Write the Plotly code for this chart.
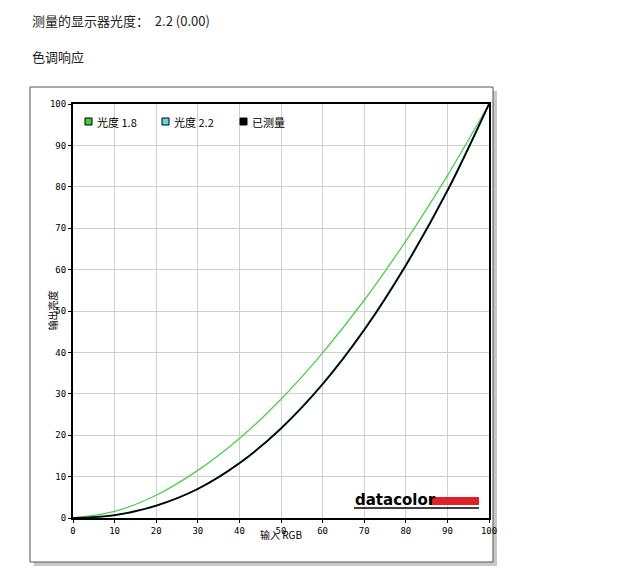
import plotly.graph_objects as go

# input RGB levels
x_levels = [0, 10, 20, 30, 40, 50, 60, 70, 80, 90, 100]
gamma_18 = [0, 1.6, 5.5, 11.5, 19.2, 28.7, 39.9, 52.6, 66.9, 82.7, 100]
gamma_22 = [0, 0.6, 2.9, 7.1, 13.3, 21.8, 32.5, 45.6, 61.2, 79.3, 100]
measured = [0, 0.7, 3.0, 7.0, 13.2, 21.6, 32.3, 45.4, 61.0, 79.0, 100]
ticks = [0, 10, 20, 30, 40, 50, 60, 70, 80, 90, 100]

W, H = 640, 584
L, R, T, B = 73, 489, 104, 518
SHIFT = 8  # page body margin


def px(x):
    return (x - L) / (R - L)


def py(y):
    return (B - y) / (B - T)


font = "Noto Sans CJK SC"
fig = go.Figure()
fig.add_trace(go.Scatter(x=x_levels, y=gamma_18, mode="lines", line=dict(color="#4ccf4c", width=1.3, shape="spline")))
fig.add_trace(go.Scatter(x=x_levels, y=gamma_22, mode="lines", line=dict(color="#40b8c8", width=1.5, shape="spline")))
fig.add_trace(go.Scatter(x=x_levels, y=measured, mode="lines", line=dict(color="black", width=1.8, shape="spline")))

shapes = [
    # shadowed outer box
    dict(type="rect", xref="paper", yref="paper", x0=px(34), x1=px(497), y0=py(566), y1=py(91),
         fillcolor="#c8c8c8", line=dict(width=0), layer="below"),
    dict(type="rect", xref="paper", yref="paper", x0=px(30), x1=px(493), y0=py(562), y1=py(87),
         fillcolor="white", line=dict(color="#555", width=1), layer="below"),
    # datacolor red bar
    dict(type="rect", xref="paper", yref="paper", x0=px(430), x1=px(479), y0=py(505), y1=py(497),
         fillcolor="#e0202a", line=dict(width=0)),
    dict(type="line", xref="paper", yref="paper", x0=px(354), x1=px(479), y0=py(508), y1=py(508),
         line=dict(color="black", width=1.5)),
]
annotations = [
    dict(text="测量的显示器光度：  2.2 (0.00)", x=px(30), y=py(20), xanchor="left", yanchor="middle",
         showarrow=False, xref="paper", yref="paper", font=dict(size=13, family=font, color="#222")),
    dict(text="色调响应", x=px(30), y=py(57), xanchor="left", yanchor="middle",
         showarrow=False, xref="paper", yref="paper", font=dict(size=13, family=font, color="#222")),
    dict(text="输出亮度", x=px(42), y=py(311), textangle=-90, showarrow=False,
         xref="paper", yref="paper", font=dict(size=10, family=font, color="black")),
    dict(text="输入 RGB", x=px(281), y=py(544), showarrow=False,
         xref="paper", yref="paper", font=dict(size=10, family=font, color="black")),
    dict(text="<b>datacolor</b>", x=px(353), y=py(500), xanchor="left", yanchor="middle", showarrow=False,
         xref="paper", yref="paper", font=dict(size=15, family="DejaVu Sans", color="black")),
]
legend_items = [("光度 1.8", "#3ccf3c", 85), ("光度 2.2", "#5fd8e0", 162), ("已测量", "black", 240)]
for label, color, xpos in legend_items:
    shapes.append(dict(type="rect", xref="paper", yref="paper", x0=px(xpos), x1=px(xpos + 7),
                       y0=py(125), y1=py(118), fillcolor=color, line=dict(color="black", width=1)))
    annotations.append(dict(text=label, x=px(xpos + 10), y=py(122), xanchor="left", yanchor="middle",
                            showarrow=False, xref="paper", yref="paper",
                            font=dict(size=11, family=font, color="black")))

axis_common = dict(range=[0, 100], tickvals=ticks, showgrid=True, gridcolor="#d0d0d0", gridwidth=1,
                   zeroline=False, ticks="outside", ticklen=3, tickcolor="black",
                   showline=True, linecolor="black", linewidth=2, mirror=True,
                   tickfont=dict(size=9, family="DejaVu Sans Mono", color="black"))
fig.update_layout(
    width=W, height=H, showlegend=False,
    margin=dict(l=L - SHIFT, r=W - R + SHIFT, t=T - SHIFT, b=H - B + SHIFT),
    paper_bgcolor="white", plot_bgcolor="white",
    xaxis=axis_common, yaxis=axis_common,
    shapes=shapes, annotations=annotations,
)
fig.write_html("out.html")
